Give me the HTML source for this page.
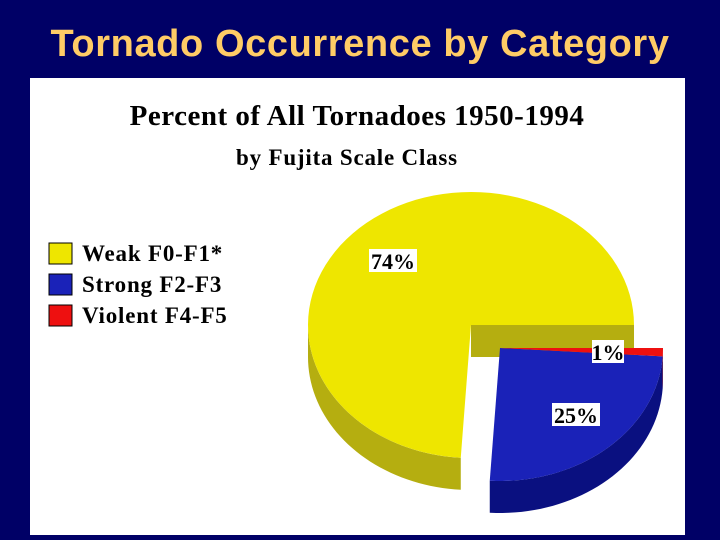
<!DOCTYPE html>
<html><head><meta charset="utf-8">
<style>
html,body{margin:0;padding:0;}
body{width:720px;height:540px;background:#000066;overflow:hidden;position:relative;font-family:"Liberation Sans",sans-serif;}
#title{position:absolute;left:0;top:22px;width:720px;text-align:center;color:#FFCC66;font-size:38px;font-weight:bold;letter-spacing:0.6px;line-height:44px;}
#panel{position:absolute;left:30px;top:78px;width:655px;height:457px;background:#fff;}
svg{position:absolute;left:0;top:0;}
</style></head>
<body>
<div id="title">Tornado Occurrence by Category</div>
<div id="panel"></div>
<svg id="chart" width="720" height="540">
  <text x="357" y="125" text-anchor="middle" font-family="Liberation Serif,serif" font-weight="bold" font-size="29" letter-spacing="0.5" fill="#000">Percent of All Tornadoes 1950-1994</text>
  <text x="347" y="165" text-anchor="middle" font-family="Liberation Serif,serif" font-weight="bold" font-size="23" letter-spacing="0.8" fill="#000">by Fujita Scale Class</text>
  <g id="legend"></g>
  <g id="pie"></g>
  <g id="labels"></g>
</svg>
<script>
const categories = ["Weak  F0-F1*", "Strong  F2-F3", "Violent  F4-F5"];
const values = [74, 25, 1];
const printed = ["74%", "25%", "1%"];
const colors = ["#EEE600", "#1A22B8", "#EE1010"];
const sideColors = ["#B5AE10", "#0A1080", "#A00000"];
const NS = "http://www.w3.org/2000/svg";
const cx = 471, cy = 325, rx = 163, ry = 133, depth = 32;
const explode = [[0,0],[29,23],[29,23]];
function mk(tag, attrs, parent){const e=document.createElementNS(NS,tag);for(const k in attrs)e.setAttribute(k,attrs[k]);parent.appendChild(e);return e;}
function pt(t,dx,dy,z){return [cx+dx+rx*Math.cos(t), cy+dy-ry*Math.sin(t)+(z||0)];}
const total = values.reduce((a,b)=>a+b,0);
const order=[0,1,2];
let start=0;
const pie=document.getElementById('pie');
const labels=document.getElementById('labels');
const angles=[];
order.forEach(i=>{const sweep=values[i]/total*2*Math.PI;angles[i]=[start,start+sweep];start+=sweep;});
order.forEach(i=>{
  const [a0,a1]=angles[i];const [dx,dy]=explode[i];
  const g=mk('g',{},pie);
  
  
  const s0=Math.max(a0,Math.PI), s1=Math.min(a1,2*Math.PI);
  if(s1>s0){
    let d='';const N=40;
    for(let k=0;k<=N;k++){const t=s0+(s1-s0)*k/N;const p=pt(t,dx,dy,0);d+=(k?'L':'M')+p[0]+','+p[1];}
    for(let k=N;k>=0;k--){const t=s0+(s1-s0)*k/N;const p=pt(t,dx,dy,depth);d+='L'+p[0]+','+p[1];}
    mk('path',{d:d+'Z',fill:sideColors[i]},g);
  }
  if(a0===0){
    const p=pt(0,dx,dy,0);
    mk('path',{d:`M${cx+dx},${cy+dy}L${p[0]},${p[1]}L${p[0]},${p[1]+depth}L${cx+dx},${cy+dy+depth}Z`,fill:sideColors[i]},g);
  }
  let d=`M${cx+dx},${cy+dy}`;const N=80;
  for(let k=0;k<=N;k++){const t=a0+(a1-a0)*k/N;const p=pt(t,dx,dy,0);d+='L'+p[0]+','+p[1];}
  mk('path',{d:d+'Z',fill:colors[i]},g);
});
const labelPos=[[393,261],[576,415],[608,352]];
order.forEach(i=>{
  const [x,y]=labelPos[i];
  const w=printed[i].length*16;
  const g=mk('g',{},labels);
  
  
  mk('rect',{x:x-w/2,y:y-12,width:w,height:23,fill:'#fff'},g);
  const t=mk('text',{x:x,y:y+8,'text-anchor':'middle','font-family':'Liberation Serif,serif','font-weight':'bold','font-size':'22',fill:'#000'},g);
  t.textContent=printed[i];
});
const legend=document.getElementById('legend');
categories.forEach((c,i)=>{
  const y=243+i*31;
  const g=mk('g',{},legend);
  
  
  mk('rect',{x:49,y:y,width:23,height:21,fill:colors[i],stroke:'#000','stroke-width':1},g);
  const t=mk('text',{x:82,y:y+18,'font-family':'Liberation Serif,serif','font-weight':'bold','font-size':'23','letter-spacing':'0.8',fill:'#000','xml:space':'preserve'},g);
  t.textContent=c;
});
</script>
</body></html>
